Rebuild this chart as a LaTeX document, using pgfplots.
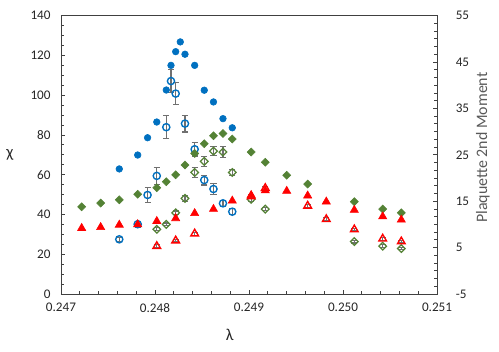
\documentclass[border=0pt]{standalone}
\usepackage{fontspec}
\setmainfont{Carlito}
\usepackage{pgfplots}
\pgfplotsset{compat=1.18}
\definecolor{cblue}{HTML}{0070C0}
\definecolor{cgreen}{HTML}{548235}
\definecolor{cred}{HTML}{FF0000}
\definecolor{cgray}{HTML}{707070}
\definecolor{axisgray}{HTML}{404040}
\definecolor{labgray}{HTML}{595959}
\begin{document}
\begin{tikzpicture}
\useasboundingbox (-44.0pt,-41.8pt) rectangle (316.0pt,212.1pt);
\pgfplotsset{
  common/.style={
    scale only axis, width=271.3pt, height=200.8pt,
    at={(0pt,0pt)}, anchor=south west,
    xmin=0.247, xmax=0.251,
    tick align=inside,
    major tick length=3pt, minor tick length=2pt,
    axis line style={axisgray, line width=0.7pt},
    every tick/.style={axisgray, line width=0.6pt},
    tick label style={font=\fontsize{9.5}{11}\selectfont, text=black!85},
    clip=false,
  },
  errstyle/.style={
    error bars/.cd, y dir=both, y explicit,
    error bar style={cgray, line width=0.8pt},
    error mark options={rotate=90, cgray, mark size=2.2pt, line width=0.8pt},
  },
}
% ---------------- left axis (chi) ----------------
\begin{axis}[common,
  ymin=0, ymax=140,
  ytick={0,20,...,140},
  yticklabels={0,20,40,60,80,100,120,140},
  minor y tick num=3,
  xtick={0.247,0.248,0.249,0.250,0.251},
  xticklabels={0.247,0.248,0.249,0.250,0.251},
  minor x tick num=4,
  xtick pos=bottom, ytick pos=left,
  yticklabel style={xshift=-4pt},
  xticklabel style={yshift=-3pt},
  xlabel={λ}, ylabel={χ},
  xlabel style={at={(axis description cs:0.449,-0.147)}, anchor=center, font=\fontsize{12}{14}\selectfont, text=black!85},
  ylabel style={at={(axis description cs:-0.1356,0.5)}, anchor=center, rotate=-90, font=\fontsize{12}{14}\selectfont, text=black!85},
]
% filled blue circles
\addplot[only marks, mark=*, mark size=2.4pt, mark options={fill=cblue, draw=cblue}] coordinates {
(0.247620,62.9) (0.247816,69.9) (0.247921,78.6) (0.248019,86.5) (0.248120,102.6)
(0.248170,115.0) (0.248220,121.9) (0.248269,126.8) (0.248319,120.6) (0.248422,115.0)
(0.248524,102.5) (0.248622,96.6) (0.248723,88.2) (0.248822,83.6)
};
% open blue circles with error bars
\addplot[only marks, mark=o, mark size=2.6pt, mark options={draw=cblue, line width=1pt}, errstyle] coordinates {
(0.247620,27.5) +- (0,1.0)
(0.247816,35.1) +- (0,1.5)
(0.247921,49.8) +- (0,3.8)
(0.248019,59.4) +- (0,4.2)
(0.248120,83.9) +- (0,5.9)
(0.248170,107.1) +- (0,5.8)
(0.248220,100.8) +- (0,5.7)
(0.248319,85.7) +- (0,4.2)
(0.248422,72.8) +- (0,3.4)
(0.248524,57.3) +- (0,2.5)
(0.248622,52.8) +- (0,2.8)
(0.248723,45.6) +- (0,1.5)
(0.248822,41.4) +- (0,1.5)
};
\end{axis}
% ---------------- right axis (plaquette 2nd moment) ----------------
\begin{axis}[common,
  ymin=-5, ymax=55,
  ytick={-5,5,...,55},
  yticklabels={-5,5,15,25,35,45,55},
  minor y tick num=5,
  axis x line=none,
  axis y line*=right,
  yticklabel style={xshift=10pt, anchor=west},
  ylabel={Plaquette 2nd Moment},
  ylabel style={at={(axis description cs:1.122,0.526)}, anchor=center, rotate=0, font=\fontsize{11.5}{13}\selectfont, text=labgray},
]
% filled green diamonds
\addplot[only marks, mark=square*, mark size=2.05pt, mark options={rotate=45, fill=cgreen, draw=cgreen}] coordinates {
(0.247220,13.8) (0.247422,14.6) (0.247620,15.3) (0.247816,16.5) (0.248019,17.9)
(0.248120,19.2) (0.248220,20.7) (0.248319,22.8) (0.248422,25.3) (0.248524,27.4)
(0.248622,29.1) (0.248723,29.6) (0.248822,28.4) (0.249023,25.6) (0.249173,23.4)
(0.249401,20.6) (0.249624,18.7) (0.250120,14.9) (0.250422,13.3) (0.250620,12.5)
};
% open green diamonds with error bars
\addplot[only marks, mark=square, mark size=1.95pt, mark options={rotate=45, draw=cgreen, line width=0.9pt}, errstyle] coordinates {
(0.248019,8.95) +- (0,0.3)
(0.248120,10.0) +- (0,0.3)
(0.248220,12.5) +- (0,0.4)
(0.248319,15.6) +- (0,0.7)
(0.248422,21.2) +- (0,1.0)
(0.248524,23.6) +- (0,1.1)
(0.248622,25.8) +- (0,1.0)
(0.248723,25.6) +- (0,1.2)
(0.248822,21.2) +- (0,0.7)
(0.249023,15.4) +- (0,0.5)
(0.249173,13.3) +- (0,0.3)
(0.250120,6.3) +- (0,0.3)
(0.250422,5.3) +- (0,0.3)
(0.250620,4.8) +- (0,0.3)
};
% filled red triangles
\addplot[only marks, mark=triangle*, mark size=3.4pt, mark options={fill=cred, draw=cred}] coordinates {
(0.247220,9.2) (0.247422,9.4) (0.247620,9.9) (0.247816,10.0) (0.248019,10.7)
(0.248220,11.3) (0.248422,12.4) (0.248622,13.3) (0.248822,15.1) (0.249023,16.3)
(0.249173,17.3) (0.249401,17.2) (0.249624,16.2) (0.249822,14.9) (0.250120,13.1)
(0.250422,11.7) (0.250620,11.0)
};
% open red triangles with error bars
\addplot[only marks, mark=triangle, mark size=3.2pt, mark options={draw=cred, line width=1pt}, errstyle] coordinates {
(0.248019,5.3) +- (0,0.3)
(0.248220,6.5) +- (0,0.3)
(0.248422,8.0) +- (0,0.3)
(0.249023,16.0) +- (0,0.4)
(0.249173,17.8) +- (0,0.4)
(0.249624,14.0) +- (0,0.3)
(0.249822,11.1) +- (0,0.3)
(0.250120,8.9) +- (0,0.3)
(0.250422,6.9) +- (0,0.3)
(0.250620,6.3) +- (0,0.3)
};
\end{axis}
\end{tikzpicture}
\end{document}
